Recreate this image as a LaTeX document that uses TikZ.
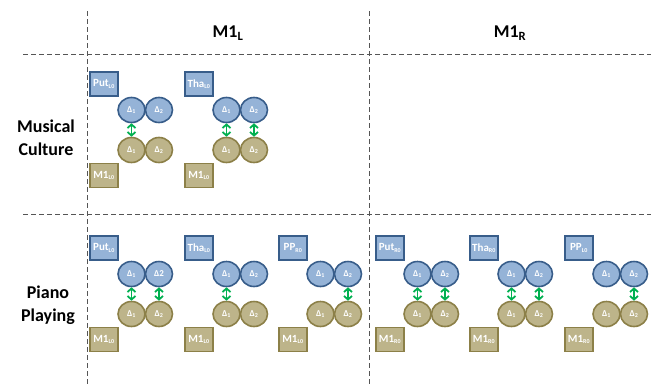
\documentclass[tikz,border=0pt]{standalone}
\usepackage{fontspec}
\setmainfont{Carlito}
\usetikzlibrary{arrows.meta, shapes.geometric}

\definecolor{blueFill}{HTML}{95B3D7}
\definecolor{blueLine}{HTML}{385D8A}
\definecolor{tanFill}{HTML}{BDB48A}
\definecolor{tanLine}{HTML}{8C8048}
\definecolor{linkGreen}{HTML}{00B050}
\definecolor{gridGray}{HTML}{555555}

\tikzset{
    grid/.style={gridGray, line width=1pt, dash pattern=on 5pt off 3pt},
    head/.style={font=\bfseries\fontsize{18}{20}\selectfont},
    rowlabel/.style={font=\bfseries\fontsize{18}{23}\selectfont, align=center},
    sqbox/.style={draw, line width=1.6pt, minimum width=28pt, minimum height=24pt,
        inner sep=0pt, text=white, font=\bfseries\fontsize{11}{12}\selectfont},
    topbox/.style={sqbox, fill=blueFill, draw=blueLine},
    botbox/.style={sqbox, fill=tanFill, draw=tanLine},
    delta/.style={ellipse, draw, line width=1.6pt, minimum width=27pt, minimum height=25pt,
        inner sep=0pt, text=white, font=\bfseries\fontsize{9}{10}\selectfont},
    topdelta/.style={delta, fill=blueFill, draw=blueLine},
    botdelta/.style={delta, fill=tanFill, draw=tanLine},
    conn/.style={linkGreen, line width=1.8pt, {Straight Barb[length=3.5pt,width=8pt]}-{Straight Barb[length=3.5pt,width=8pt]}}
}

\newcommand{\sub}[1]{\textsubscript{\fontsize{6}{6}\selectfont #1}}

\begin{document}
\begin{tikzpicture}[x=1pt, y=-1pt]
\useasboundingbox (0,0) rectangle (651,384);

% grid of the table
\draw[grid] (87,11) -- (87,384);
\draw[grid] (369,11) -- (369,384);
\draw[grid] (23,54) -- (651,54);
\draw[grid] (23,214) -- (651,214);

% column and row headings
\node[head] (colL) at (228,33) {M1\textsubscript{L}};
\node[head] (colR) at (510,33) {M1\textsubscript{R}};
\node[rowlabel] (rowMC) at (46,138) {Musical\\Culture};
\node[rowlabel] (rowPP) at (48,305) {Piano\\Playing};

% one group per cell: top box, two deltas each side, bottom box
\foreach \gx/\gy/\tl/\bl/\dd/\g in {
    104/84/Put\sub{L0}/M1\sub{L0}/Δ\sub{2}/a,
    199/84/Tha\sub{L0}/M1\sub{L0}/Δ\sub{2}/b,
    104/248/Put\sub{L0}/M1\sub{L0}/Δ2/c,
    199/248/Tha\sub{L0}/M1\sub{L0}/Δ\sub{2}/d,
    293/248/PP\sub{R0}/M1\sub{L0}/Δ\sub{2}/e,
    390/248/Put\sub{R0}/M1\sub{R0}/Δ\sub{2}/f,
    484/248/Tha\sub{R0}/M1\sub{R0}/Δ\sub{2}/g,
    579/248/PP\sub{L0}/M1\sub{R0}/Δ\sub{2}/h} {
    \node[topbox] (\g-top) at (\gx,\gy) {\tl};
    \node[topdelta] (\g-t1) at (\gx+27.5,\gy+26) {Δ\sub{1}};
    \node[topdelta] (\g-t2) at (\gx+55,\gy+26) {\dd};
    \node[botdelta] (\g-b1) at (\gx+27.5,\gy+66) {Δ\sub{1}};
    \node[botdelta] (\g-b2) at (\gx+55,\gy+66) {Δ\sub{2}};
    \node[botbox] (\g-bot) at (\gx,\gy+91.5) {\bl};
}

% links between matching deltas
\foreach \g/\k in {a/1, b/1, b/2, c/1, c/2, d/1, e/2, f/1, f/2, g/1, g/2, h/2}
    \draw[conn] (\g-t\k) -- (\g-b\k);

\end{tikzpicture}
\end{document}
